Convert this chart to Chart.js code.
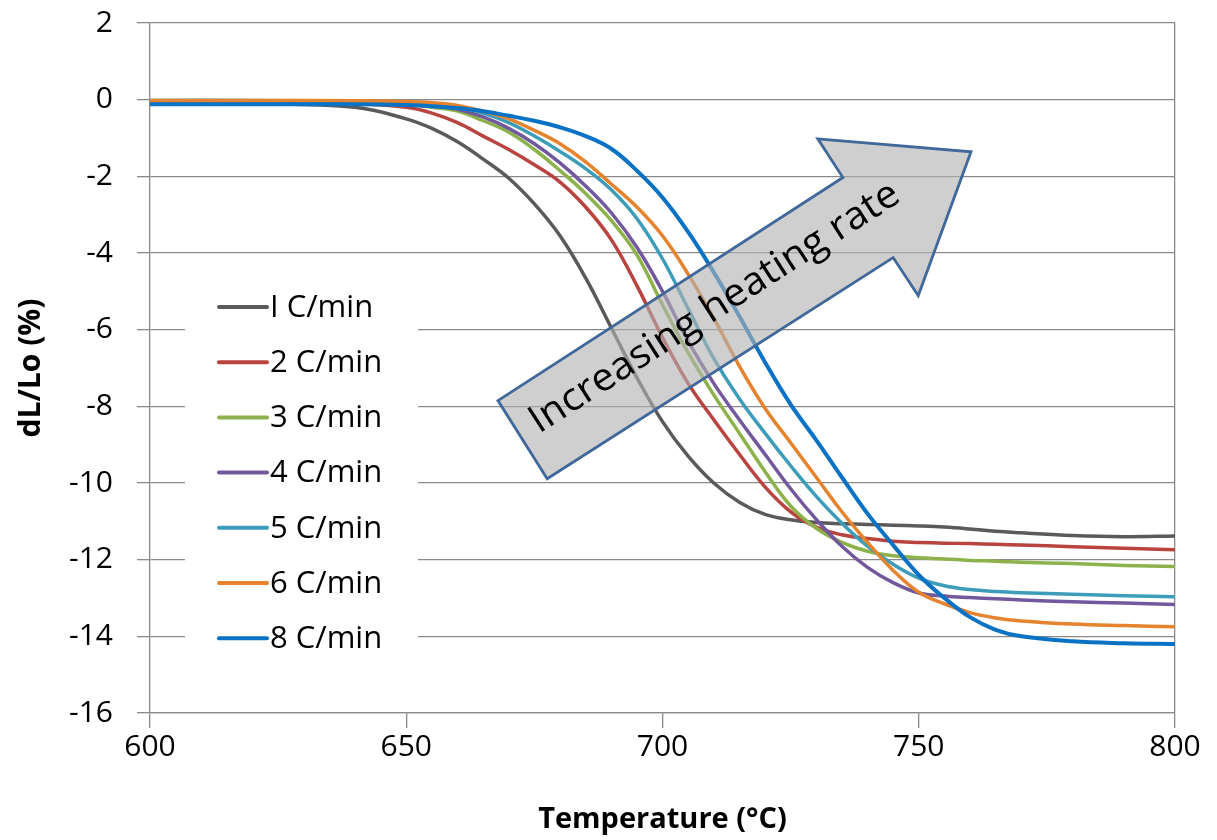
<!DOCTYPE html>
<html lang="en">
  <head>
    <meta charset="utf-8" />
    <title>dL/Lo vs temperature</title>
    <script src="https://cdn.jsdelivr.net/npm/chart.js@4.4.1/dist/chart.umd.min.js"></script>
    <style>
      html, body { margin: 0; padding: 0; background: #fff; }
      #wrap { width: 1217px; height: 840px; }
    </style>
  </head>
  <body>
    <div id="wrap">
      <canvas id="dl_chart" width="1217" height="840"></canvas>
    </div>
    <script>
      // temperature (°C) sample points
      const temps = [600, 620, 640, 650, 655, 660, 665, 670, 675, 680, 685, 690, 695, 700, 705, 710,
                     715, 720, 725, 730, 735, 740, 745, 750, 755, 760, 765, 770, 780, 790, 800];

      // dL/Lo (%) for each heating rate
      const rate1 = [-0.08, -0.1, -0.2, -0.5, -0.75, -1.1, -1.55, -2.05, -2.72, -3.55, -4.65, -5.95, -7.25, -8.4, -9.3, -10.0,
                     -10.5, -10.82, -10.96, -11.03, -11.06, -11.08, -11.1, -11.12, -11.15, -11.2, -11.26, -11.3, -11.37, -11.4, -11.38];
      const rate2 = [-0.05, -0.05, -0.1, -0.2, -0.35, -0.6, -0.95, -1.3, -1.7, -2.15, -2.8, -3.65, -4.85, -6.2, -7.4, -8.35,
                     -9.25, -10.1, -10.75, -11.15, -11.35, -11.45, -11.52, -11.55, -11.57, -11.58, -11.6, -11.62, -11.66, -11.7, -11.74];
      const rate3 = [-0.05, -0.05, -0.08, -0.12, -0.2, -0.3, -0.55, -0.85, -1.3, -1.85, -2.45, -3.15, -4.05, -5.35, -6.6, -7.7,
                     -8.7, -9.7, -10.6, -11.18, -11.55, -11.78, -11.9, -11.95, -11.98, -12.02, -12.04, -12.07, -12.1, -12.15, -12.18];
      const rate4 = [-0.03, -0.03, -0.06, -0.1, -0.15, -0.25, -0.45, -0.75, -1.15, -1.65, -2.25, -2.95, -3.85, -5.0, -6.3, -7.4,
                     -8.35, -9.25, -10.15, -10.95, -11.65, -12.2, -12.6, -12.87, -12.95, -12.99, -13.02, -13.05, -13.1, -13.13, -13.17];
      const rate5 = [-0.02, -0.02, -0.05, -0.08, -0.12, -0.2, -0.35, -0.6, -0.95, -1.35, -1.8, -2.35, -3.1, -4.15, -5.45, -6.75,
                     -7.8, -8.7, -9.55, -10.35, -11.05, -11.65, -12.12, -12.48, -12.68, -12.78, -12.83, -12.86, -12.9, -12.94, -12.97];
      const rate6 = [-0.02, -0.02, -0.03, -0.05, -0.08, -0.15, -0.3, -0.5, -0.8, -1.15, -1.62, -2.2, -2.8, -3.55, -4.55, -5.7,
                     -6.95, -8.05, -8.95, -9.85, -10.75, -11.55, -12.28, -12.85, -13.15, -13.38, -13.52, -13.6, -13.68, -13.72, -13.75];
      const rate8 = [-0.12, -0.12, -0.12, -0.14, -0.17, -0.22, -0.3, -0.42, -0.55, -0.72, -0.95, -1.28, -1.85, -2.55, -3.45, -4.5,
                     -5.65, -6.85, -7.95, -8.88, -9.85, -10.8, -11.62, -12.4, -13.0, -13.5, -13.83, -14.0, -14.13, -14.18, -14.2];

      const seriesLabels = ["I C/min", "2 C/min", "3 C/min", "4 C/min", "5 C/min", "6 C/min", "8 C/min"];
      const seriesValues = [rate1, rate2, rate3, rate4, rate5, rate6, rate8];
      const seriesColors = ["#5a5a5a", "#b8433f", "#8db24c", "#72589c", "#3d9db8", "#e5832e", "#0a72c4"];

      const yTicks = { min: -16, max: 2, step: 2 };
      const xTicks = { min: 600, max: 800, step: 50 };

      // block arrow annotation, in (°C, %) coordinates
      const arrowPts = [[667.9, -7.85], [735.2, -2.03], [730.3, -1.02], [760.2, -1.36],
                        [749.9, -5.11], [745.0, -4.12], [677.5, -9.89]];
      const arrowText = "Increasing heating rate";
      const arrowTextAt = [710.2, -5.43];

      const FONT = "'Open Sans', 'Liberation Sans', sans-serif";
      const GRID = "#8a8a8a";

      const datasets = seriesValues.map(function (vals, i) {
        return {
          label: seriesLabels[i],
          data: temps.map(function (t, j) { return { x: t, y: vals[j] }; }),
          borderColor: seriesColors[i],
          backgroundColor: seriesColors[i],
          borderWidth: i === 6 ? 4 : 3.5,
          pointRadius: 0,
          tension: 0.4,
          fill: false,
          order: seriesValues.length - i, // later series on top
        };
      });

      const insideLegend = {
        id: "insideLegend",
        afterDraw(chart) {
          const ctx = chart.ctx;
          const a = chart.chartArea;
          ctx.save();
          ctx.fillStyle = "#fff";
          ctx.fillRect(a.left + 35, 272, 233, 396);
          ctx.font = "31px " + FONT;
          ctx.textBaseline = "middle";
          chart.data.datasets.forEach(function (ds, i) {
            const y = 307 + i * 55.2;
            ctx.strokeStyle = ds.borderColor;
            ctx.lineWidth = 4;
            ctx.lineCap = "round";
            ctx.beginPath();
            ctx.moveTo(a.left + 69, y);
            ctx.lineTo(a.left + 117, y);
            ctx.stroke();
            ctx.fillStyle = "#000";
            ctx.fillText(ds.label, a.left + 120, y + 1);
          });
          ctx.restore();
        },
      };

      const blockArrow = {
        id: "blockArrow",
        afterDatasetsDraw(chart) {
          const ctx = chart.ctx;
          const xs = chart.scales.x, ys = chart.scales.y;
          const px = arrowPts.map(function (p) {
            return [xs.getPixelForValue(p[0]), ys.getPixelForValue(p[1])];
          });
          ctx.save();
          ctx.beginPath();
          px.forEach(function (p, i) { if (i === 0) ctx.moveTo(p[0], p[1]); else ctx.lineTo(p[0], p[1]); });
          ctx.closePath();
          ctx.fillStyle = "rgba(178,178,178,0.62)";
          ctx.fill();
          ctx.strokeStyle = "#41689a";
          ctx.lineWidth = 2.8;
          ctx.lineJoin = "miter";
          ctx.stroke();

          // text along the shaft, a bit condensed like the original face
          const tailX = (px[0][0] + px[6][0]) / 2, tailY = (px[0][1] + px[6][1]) / 2;
          const headX = (px[1][0] + px[5][0]) / 2, headY = (px[1][1] + px[5][1]) / 2;
          const ang = Math.atan2(headY - tailY, headX - tailX);
          ctx.translate(xs.getPixelForValue(arrowTextAt[0]), ys.getPixelForValue(arrowTextAt[1]));
          ctx.rotate(ang);
          ctx.font = "39px " + FONT;
          const sx = 432 / ctx.measureText(arrowText).width;
          ctx.scale(sx, 1);
          ctx.fillStyle = "#000";
          ctx.textAlign = "center";
          ctx.textBaseline = "middle";
          ctx.fillText(arrowText, 0, 0);
          ctx.restore();
        },
      };

      const config = {
        type: "line",
        data: { datasets: datasets },
        options: {
          responsive: false,
          animation: false,
          layout: { padding: { top: 23, right: 42, left: 0, bottom: 0 } },
          plugins: { legend: { display: false }, tooltip: { enabled: false } },
          scales: {
            x: {
              type: "linear",
              min: xTicks.min,
              max: xTicks.max,
              afterFit(scale) { scale.height = 127; scale.paddingLeft = 0; scale.paddingRight = 0; },
              ticks: { stepSize: xTicks.step, color: "#000", font: { family: FONT, size: 30 }, padding: 1 },
              grid: {
                color: function (c) { return c.tick && c.tick.value === xTicks.max ? GRID : "rgba(0,0,0,0)"; },
                tickColor: GRID,
                lineWidth: 1.3,
                tickLength: 15,
              },
              border: { color: GRID, width: 1.3 },
              title: {
                display: true,
                text: "Temperature (°C)",
                color: "#000",
                font: { family: FONT, size: 29, weight: "bold" },
                padding: { top: 0, bottom: 3 },
              },
            },
            y: {
              min: yTicks.min,
              max: yTicks.max,
              afterFit(scale) { scale.width = 150; scale.paddingTop = 0; scale.paddingBottom = 0; },
              ticks: { stepSize: yTicks.step, color: "#000", font: { family: FONT, size: 30 }, padding: 24 },
              grid: { color: GRID, lineWidth: 1.3, tickLength: 13 },
              border: { color: GRID, width: 1.3 },
              title: {
                display: true,
                text: "dL/Lo (%)",
                color: "#000",
                font: { family: FONT, size: 30, weight: "bold" },
                padding: { top: 13, bottom: 0 },
              },
            },
          },
        },
        plugins: [blockArrow, insideLegend],
      };

      const dlChart = new Chart(document.getElementById("dl_chart"), config);
    </script>
  </body>
</html>
